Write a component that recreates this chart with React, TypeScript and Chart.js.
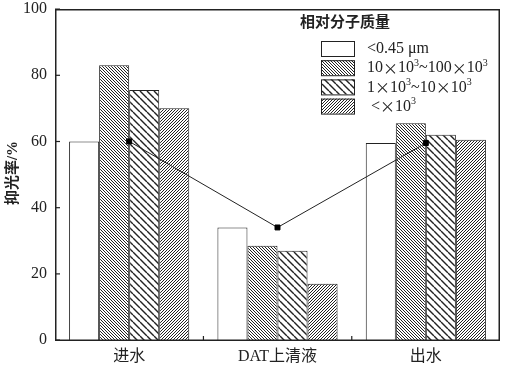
import React, { useEffect, useRef } from "react";
import { Chart, registerables } from "chart.js";

Chart.register(...registerables);

const categories = ["进水", "DAT上清液", "出水"];
const seriesLabels = ["<0.45 μm", "10×10³~100×10³", "1×10³~10×10³", " <×10³"];
const sLess045 = [60, 34, 59.5];
const s10to100 = [83, 28.5, 65.5];
const s1to10 = [75.5, 27, 62];
const sBelow1 = [70, 17, 60.5];
const lineValues = [60, 34, 59.5];
const yTicks = [0, 20, 40, 60, 80, 100];
const legendTitle = "相对分子质量";
const yTitle = "抑光率/%";

const FONT = "'Liberation Serif', 'Noto Sans CJK SC', serif";
const CJK = "'Noto Sans CJK SC', sans-serif";

function hatch(s: number, lw: number, dir: "\\" | "/" | "none"): CanvasPattern | string {
  if (dir === "none") return "#ffffff";
  const c = document.createElement("canvas");
  c.width = s;
  c.height = s;
  const g = c.getContext("2d")!;
  g.fillStyle = "#fff";
  g.fillRect(0, 0, s, s);
  g.strokeStyle = "#222";
  g.lineWidth = lw;
  g.beginPath();
  for (const k of [-1, 0, 1]) {
    if (dir === "\\") {
      g.moveTo(k * s, 0);
      g.lineTo(k * s + s, s);
    } else {
      g.moveTo(k * s, s);
      g.lineTo(k * s + s, 0);
    }
  }
  g.stroke();
  return g.createPattern(c, "repeat")!;
}

function richText(ctx: CanvasRenderingContext2D, text: string, x: number, y: number, size: number) {
  let cx = x;
  for (const ch of text) {
    if (ch === "×") {
      ctx.font = `${size - 1}px ${CJK}`;
      ctx.fillText(ch, cx, y);
      cx += ctx.measureText(ch).width;
    } else if (ch === "³") {
      ctx.font = `${Math.round(size * 0.65)}px ${FONT}`;
      ctx.fillText("3", cx, y - size * 0.3);
      cx += ctx.measureText("3").width;
    } else {
      ctx.font = `${size}px ${FONT}`;
      ctx.fillText(ch, cx, y);
      cx += ctx.measureText(ch).width;
    }
  }
}

export default function App() {
  const ref = useRef<HTMLCanvasElement>(null);
  useEffect(() => {
    document.body.style.margin = "0";
    const fills = [
      hatch(3, 1, "none"),
      hatch(3, 1, "\\"),
      hatch(7, 1.4, "\\"),
      hatch(3, 1, "/"),
    ];
    const barData = [sLess045, s10to100, s1to10, sBelow1];

    const deco = {
      id: "deco",
      afterDraw(chart: any) {
        const ctx = chart.ctx as CanvasRenderingContext2D;
        const a = chart.chartArea;
        const x = chart.scales.x;
        const y = chart.scales.y;
        ctx.save();
        ctx.fillStyle = "#222";
        const w = 1.5;
        ctx.fillRect(a.left, a.top, a.right - a.left, w);
        ctx.fillRect(a.left, a.bottom - 0.5, a.right - a.left, w);
        ctx.fillRect(a.left, a.top, w, a.bottom - a.top + 1);
        ctx.fillRect(a.right - w, a.top, w, a.bottom - a.top + 1);
        for (const t of yTicks) {
          const py = y.getPixelForValue(t);
          ctx.fillRect(a.left, py - 0.5, 5, 1.2);
        }
        for (let i = 1; i < categories.length; i++) {
          const px = (x.getPixelForValue(i - 1) + x.getPixelForValue(i)) / 2;
          ctx.fillRect(px - 0.5, a.bottom - 4, 1.2, 4);
        }

        // y title
        ctx.fillStyle = "#222";
        ctx.font = `bold 15px ${FONT}`;
        ctx.textAlign = "center";
        ctx.textBaseline = "middle";
        ctx.translate(13, 173);
        ctx.rotate(-Math.PI / 2);
        ctx.fillText(yTitle, 0, 0);
        ctx.setTransform(1, 0, 0, 1, 0, 0);

        // legend
        ctx.font = `bold 15px ${FONT}`;
        ctx.textAlign = "left";
        ctx.fillText(legendTitle, 300, 23);
        for (let i = 0; i < 4; i++) {
          const top = 41 + i * 19.2;
          ctx.fillStyle = fills[i] as any;
          ctx.fillRect(321, top, 33, 15);
          ctx.strokeStyle = "#222";
          ctx.lineWidth = 1;
          ctx.strokeRect(321.5, top + 0.5, 33, 15);
          ctx.fillStyle = "#222";
          richText(ctx, seriesLabels[i], 367, top + 8, 16);
        }
        ctx.restore();
      },
    };

    const chart = new Chart(ref.current!, {
      type: "bar",
      data: {
        labels: categories,
        datasets: [
          {
            type: "line",
            label: "line",
            data: lineValues,
            borderColor: "#222",
            borderWidth: 1,
            backgroundColor: "#000",
            pointStyle: "rect",
            pointRadius: 3.5,
            pointBackgroundColor: "#000",
            pointBorderColor: "#000",
            order: -1,
          } as any,
          ...barData.map((d, i) => ({
            type: "bar",
            label: seriesLabels[i],
            data: d,
            backgroundColor: fills[i] as any,
            borderColor: "#222",
            borderWidth: 1,
            categoryPercentage: 0.81,
            barPercentage: 1,
            order: 1,
          })),
        ],
      },
      options: {
        responsive: false,
        animation: false,
        devicePixelRatio: 1,
        layout: { padding: { left: 0, right: 4, top: 9, bottom: 0 } },
        plugins: { legend: { display: false }, tooltip: { enabled: false } },
        scales: {
          x: {
            grid: { display: false, drawTicks: false },
            border: { display: false },
            ticks: { color: "#222", font: { family: FONT, size: 16 }, padding: 7 },
            afterFit: (s: any) => { s.height = 27; s.paddingLeft = 0; s.paddingRight = 0; },
          },
          y: {
            min: 0,
            max: 100,
            grid: { display: false, drawTicks: false },
            border: { display: false },
            ticks: { stepSize: 20, color: "#222", font: { family: FONT, size: 16 }, padding: 8 },
            afterFit: (s: any) => { s.width = 55; s.paddingTop = 0; s.paddingBottom = 0; },
          },
        },
      },
      plugins: [deco],
    });
    return () => chart.destroy();
  }, []);
  return <canvas ref={ref} width={505} height={367} style={{ display: "block" }} />;
}
